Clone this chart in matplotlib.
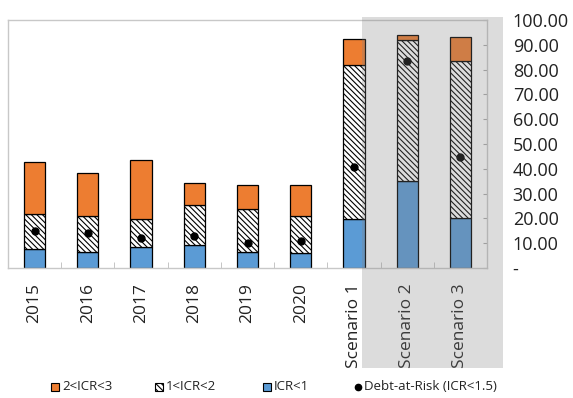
import matplotlib
matplotlib.use("Agg")
import matplotlib.pyplot as plt
from matplotlib.patches import Rectangle
from matplotlib.lines import Line2D
import numpy as np

plt.rcParams['font.family'] = ['Open Sans', 'DejaVu Sans']
plt.rcParams['hatch.linewidth'] = 0.8

categories = ['2015', '2016', '2017', '2018', '2019', '2020', 'Scenario 1', 'Scenario 2', 'Scenario 3']
icr_lt1 = [7.6, 6.5, 8.3, 9.1, 6.5, 6.1, 19.8, 35.1, 20.2]
icr_1_2 = [14.0, 14.5, 11.5, 16.5, 17.3, 14.9, 62.1, 56.9, 63.3]
icr_2_3 = [21.2, 17.3, 23.9, 8.8, 9.8, 12.6, 10.6, 1.8, 9.5]
debt_at_risk = [14.9, 14.3, 12.2, 13.1, 9.9, 11.0, 40.7, 83.4, 44.7]
yticks = [0, 10, 20, 30, 40, 50, 60, 70, 80, 90, 100]
ytick_labels = ['-', '10.00', '20.00', '30.00', '40.00', '50.00', '60.00', '70.00', '80.00', '90.00', '100.00']
legend_labels = ['2<ICR<3', '1<ICR<2', 'ICR<1', 'Debt-at-Risk (ICR<1.5)']

HATCH = '\\\\\\\\\\\\'
ORANGE = '#ED7D31'
BLUE = '#5B9BD5'

W, H = 573, 398
fig = plt.figure(figsize=(W / 100, H / 100), dpi=100)
ax = fig.add_axes([8 / W, 1 - 268 / H, (487 - 8) / W, (268 - 20) / H])

x = np.arange(len(categories))
w = 0.4
b1 = np.array(icr_lt1)
b2 = b1 + np.array(icr_1_2)
ax.bar(x, icr_lt1, w, color=BLUE, edgecolor='black', linewidth=0.9, zorder=2)
ax.bar(x, icr_1_2, w, bottom=b1, color='white', edgecolor='black', hatch=HATCH, linewidth=0.9, zorder=2)
ax.bar(x, icr_2_3, w, bottom=b2, color=ORANGE, edgecolor='black', linewidth=0.9, zorder=2)
ax.plot(x, debt_at_risk, 'o', color='black', markersize=5, zorder=3)

ax.set_xlim(-0.5, len(categories) - 0.5)
ax.set_ylim(0, 100)
ax.yaxis.tick_right()
ax.set_yticks(yticks)
ax.set_yticklabels(ytick_labels, fontsize=13, color='#222222')
ax.tick_params(axis='y', direction='in', length=3, color='#aaaaaa', pad=18.5)
for lbl in ax.get_yticklabels():
    lbl.set_horizontalalignment('left')
ax.set_xticks(x)
ax.set_xticklabels(categories, rotation=90, fontsize=12.5, color='#222222')
ax.set_xticks(np.arange(-0.5, len(categories), 1), minor=True)
ax.tick_params(axis='x', which='major', length=0, pad=11)
ax.tick_params(axis='x', which='minor', direction='in', length=4, color='#bbbbbb')
for s in ax.spines.values():
    s.set_color('#c8c8c8')
    s.set_linewidth(1)

# shaded scenario region (semi-transparent overlay)
fig.patches.append(Rectangle((362 / W, 1 - 368 / H), (503 - 362) / W, (368 - 17) / H,
                             transform=fig.transFigure, facecolor='#808080', alpha=0.27,
                             edgecolor='none', zorder=10))

# legend
ly = 1 - 387 / H
sq = 8
patch_x = [51, 155, 263]
patch_style = [dict(facecolor=ORANGE), dict(facecolor='white', hatch=HATCH), dict(facecolor=BLUE)]
for px, st, lab in zip(patch_x, patch_style, legend_labels[:3]):
    fig.patches.append(Rectangle((px / W, ly - sq / 2 / H), sq / W, sq / H, transform=fig.transFigure,
                                 edgecolor='black', linewidth=0.8, **st))
    fig.text((px + sq + 3) / W, ly, lab, fontsize=9.5, va='center', ha='left', color='#222222')
fig.lines.append(Line2D([358 / W], [ly], marker='o', color='black', markersize=4.5,
                        transform=fig.transFigure))
fig.text(364 / W, ly, legend_labels[3], fontsize=9.5, va='center', ha='left', color='#222222')

fig.savefig('out.png', dpi=100)
